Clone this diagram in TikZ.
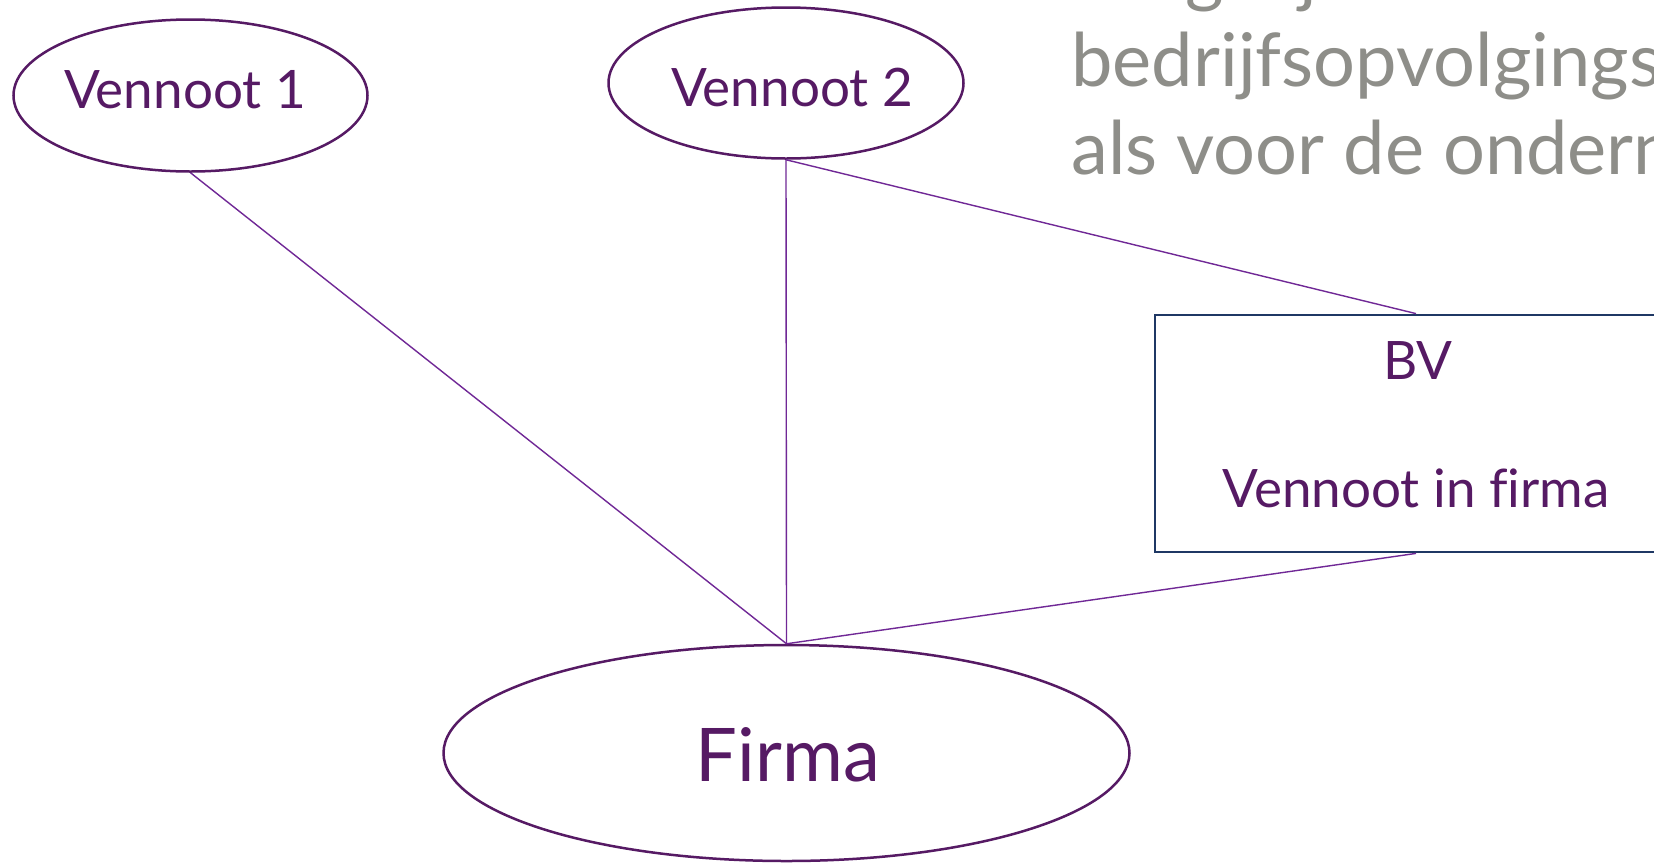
\documentclass[tikz,border=0pt]{standalone}
\usepackage{fontspec}
\setmainfont{Lato}[Ligatures=NoCommon]
\usetikzlibrary{shapes.geometric}
\definecolor{vpurple}{RGB}{86,26,100}
\definecolor{lpurple}{RGB}{112,40,150}
\definecolor{navy}{RGB}{31,56,100}
\definecolor{tgrey}{RGB}{142,142,137}
\tikzset{
  oval/.style={ellipse, draw=vpurple, line width=1.25pt, inner sep=0pt},
  bvbox/.style={rectangle, draw=navy, line width=1.4pt, inner sep=0pt},
  lbl/.style={inner sep=0pt, anchor=base, text=vpurple, font=\fontsize{26.5pt}{30pt}\selectfont},
  biglbl/.style={inner sep=0pt, anchor=base, text=vpurple, font=\fontsize{37pt}{44pt}\selectfont},
  greytxt/.style={inner sep=0pt, anchor=base west, text=tgrey, font=\fontsize{37pt}{44pt}\selectfont},
  conn/.style={draw=lpurple, line width=0.7pt}
}
\begin{document}
\begin{tikzpicture}[x=0.5pt,y=-0.5pt]
\clip (0,0) rectangle (1654,863);
\fill[white] (0,0) rectangle (1654,863);
% shapes
\node[oval, minimum width=177pt, minimum height=76pt] (v1) at (190.5,95.5) {};
\node[oval, minimum width=177.5pt, minimum height=75.5pt] (v2) at (786,83) {};
\node[oval, minimum width=343pt, minimum height=108pt] (firma) at (786.5,753) {};
\node[bvbox, minimum width=261pt, minimum height=118.5pt] (bv) at (1416,433.5) {};
% labels
\node[lbl] (v1t) at (185,108) {Vennoot 1};
\node[lbl] (v2t) at (792,106) {Vennoot 2};
\node[lbl] (bvt) at (1418,379) {BV};
\node[lbl] (bvt2) at (1416,507) {Vennoot in firma};
\node[biglbl] (firmat) at (788,781) {Firma};
% grey text
\node[greytxt] (g0) at (1073,-2) {Wegwijs};
\node[greytxt] (g1) at (1071,86) {bedrijfsopvolgings};
\node[greytxt] (g2) at (1071,174) {als voor de onderneming};
% connectors
\draw[conn] (v1.south) -- (firma.north);
\draw[conn] (v2.south) -- (firma.north);
\draw[conn] (v2.south) -- (bv.north);
\draw[conn] (bv.south) -- (firma.north);
\end{tikzpicture}
\end{document}
